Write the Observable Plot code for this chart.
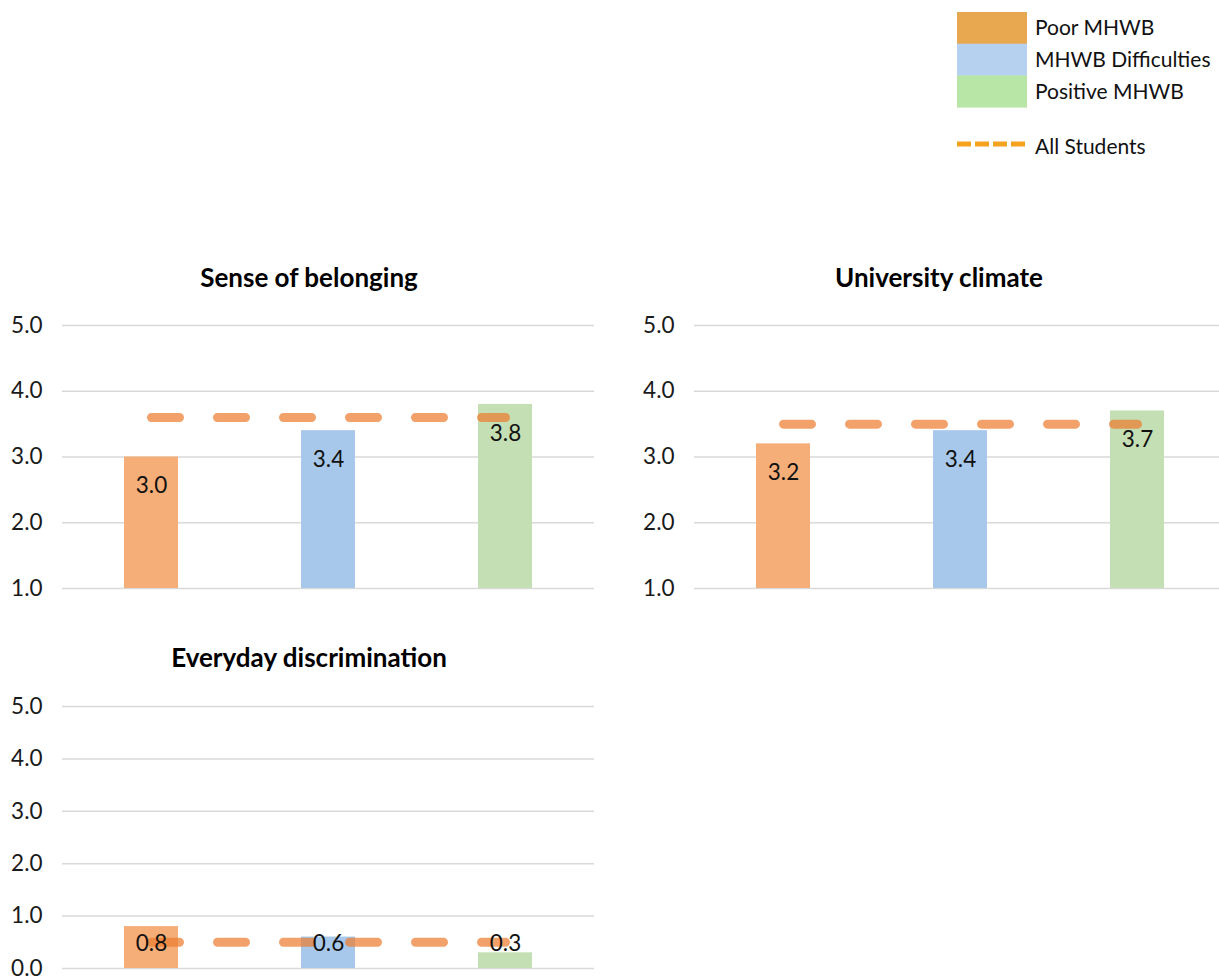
<!DOCTYPE html>
<html>
<head>
<meta charset="utf-8">
<script src="https://cdn.jsdelivr.net/npm/d3@7"></script>
<script src="https://cdn.jsdelivr.net/npm/@observablehq/plot@0.6"></script>
<style>
  body { margin: 0; background: #fff; }
  #root { position: relative; width: 1219px; height: 976px; overflow: hidden; font-family: Lato, "Open Sans", sans-serif; }
  .panel { position: absolute; }
  .title { position: absolute; width: 440px; margin-left: -220px; text-align: center; font-weight: bold; font-size: 26px; line-height: 30px; color: #000; }
  .legend { position: absolute; left: 950px; top: 0; }
</style>
</head>
<body>
<div id="root"></div>
<script>
// Student groups and their colours
const groups = ["Poor MHWB", "MHWB Difficulties", "Positive MHWB"];
const barColors = ["#F5AE78", "#A7C8EA", "#C5DFB4"];
const legendColors = ["#E8A84F", "#B5D1EF", "#B8E6A7"];
const averageLabel = "All Students";

// Panel titles and mean scores per group
const panelTitles = ["Sense of belonging", "University climate", "Everyday discrimination"];
const belongingValues = [3.0, 3.4, 3.8];
const climateValues = [3.2, 3.4, 3.7];
const discriminationValues = [0.8, 0.6, 0.3];
// Mean for all students, one per panel
const allStudentsValues = [3.6, 3.5, 0.5];

// Axis ranges and tick values
const belongingTicks = [1, 2, 3, 4, 5];
const climateTicks = [1, 2, 3, 4, 5];
const discriminationTicks = [0, 1, 2, 3, 4, 5];

const root = document.getElementById("root");
const fmt = d3.format(".1f");

function drawPanel(values, average, ticks, layout) {
  const rows = groups.map((g, i) => ({group: g, value: values[i], average}));
  const domain = [d3.min(ticks), d3.max(ticks)];
  const pxPerUnit = (layout.height - layout.marginTop - layout.marginBottom) / (domain[1] - domain[0]);
  const chart = Plot.plot({
    width: layout.width,
    height: layout.height,
    marginLeft: layout.marginLeft,
    marginRight: layout.marginRight,
    marginTop: layout.marginTop,
    marginBottom: layout.marginBottom,
    style: {fontFamily: "Lato, 'Open Sans', sans-serif", fontSize: "22.5px", color: "#1a1a1a", background: "transparent", overflow: "visible"},
    x: {domain: groups, paddingInner: 0.695, paddingOuter: 0.3475, axis: null},
    y: {domain, ticks, tickFormat: fmt, tickSize: 0, tickPadding: 20, label: null},
    color: {domain: groups, range: barColors},
    marks: [
      Plot.ruleY(ticks, {stroke: "#d9d9d9", strokeWidth: 1.5}),
      Plot.barY(rows, {x: "group", y1: domain[0], y2: "value", fill: "group"}),
      Plot.lineY(rows, {x: "group", y: "average", stroke: "#ED7D31", strokeOpacity: 0.72, strokeWidth: 9, strokeLinecap: "round", strokeDasharray: "28 38"}),
      // value labels sit just inside the top of each bar, kept above the baseline
      Plot.text(rows, {
        x: "group",
        y: d => Math.max(d.value - 29 / pxPerUnit, domain[0] + 25 / pxPerUnit),
        text: d => fmt(d.value),
        fontSize: 22.5,
        fill: "#111"
      })
    ]
  });
  chart.classList.add("panel");
  chart.style.left = layout.left + "px";
  chart.style.top = layout.top + "px";
  root.appendChild(chart);
}

function drawTitle(text, cx, cy) {
  const t = document.createElement("div");
  t.className = "title";
  t.textContent = text;
  t.style.left = cx + "px";
  t.style.top = (cy - 15) + "px";
  root.appendChild(t);
}

drawPanel(belongingValues, allStudentsValues[0], belongingTicks,
  {left: 0, top: 305, width: 610, height: 295, marginLeft: 62, marginRight: 16, marginTop: 20, marginBottom: 12});
drawPanel(climateValues, allStudentsValues[1], climateTicks,
  {left: 632, top: 305, width: 600, height: 295, marginLeft: 62, marginRight: 7, marginTop: 20, marginBottom: 12});
drawPanel(discriminationValues, allStudentsValues[2], discriminationTicks,
  {left: 0, top: 686, width: 610, height: 290, marginLeft: 62, marginRight: 16, marginTop: 20, marginBottom: 8});

drawTitle(panelTitles[0], 309, 277);
drawTitle(panelTitles[1], 939, 277);
drawTitle(panelTitles[2], 309, 657);

// Legend: stacked colour swatches plus the dashed average line
const legend = d3.select(root).append("svg")
  .attr("class", "legend")
  .attr("width", 269).attr("height", 170)
  .style("font-family", "Lato, 'Open Sans', sans-serif")
  .style("font-size", "21px");
const rowH = 31.7;
legend.selectAll("rect").data(groups).join("rect")
  .attr("x", 7).attr("y", (d, i) => 12 + i * rowH)
  .attr("width", 70).attr("height", rowH + 0.5)
  .attr("fill", (d, i) => legendColors[i]);
legend.selectAll("text.g").data(groups).join("text")
  .attr("class", "g")
  .attr("x", 85).attr("y", (d, i) => 12 + i * rowH + rowH / 2)
  .attr("dy", "0.35em").attr("fill", "#111")
  .text(d => d);
legend.append("line")
  .attr("x1", 7).attr("x2", 75).attr("y1", 144).attr("y2", 144)
  .attr("stroke", "#F5A21E").attr("stroke-width", 5).attr("stroke-dasharray", "14 4");
legend.append("text")
  .attr("x", 85).attr("y", 147).attr("dy", "0.35em").attr("fill", "#111")
  .text(averageLabel);
</script>
</body>
</html>
